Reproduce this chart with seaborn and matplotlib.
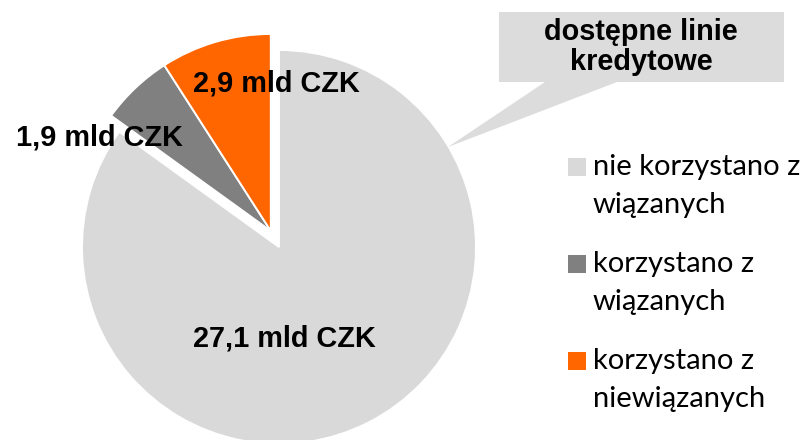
import math

import matplotlib
matplotlib.use('Agg')
import matplotlib.pyplot as plt
from matplotlib.patches import Polygon, Rectangle
import seaborn as sns

# data
values = [27.1, 1.9, 2.9]
legend_labels = [['nie korzystano z', 'wiązanych'],
                 ['korzystano z', 'wiązanych'],
                 ['korzystano z', 'niewiązanych']]
colors = ['#d9d9d9', '#808080', '#ff6600']
callout_text = 'dostępne linie\nkredytowe'

sns.set_theme(style='white')
plt.rcParams['font.family'] = ['Liberation Sans', 'DejaVu Sans']
plt.rcParams['text.color'] = 'black'
plt.rcParams['hatch.color'] = '#ececec'
plt.rcParams['hatch.linewidth'] = 0.6

W, H = 805, 440
fig = plt.figure(figsize=(W / 100, H / 100), dpi=100)
ax = fig.add_axes([0, 0, 1, 1])

cx, cy, R = 279, H - 247, 197
wedges, _ = ax.pie(values, colors=colors, startangle=90, counterclock=False,
                   center=(cx, cy), radius=R,
                   wedgeprops=dict(edgecolor='white', linewidth=1.4))

# the two small slices are pulled out together, like in Excel
t_lo = min(w.theta1 for w in wedges[1:])
t_hi = max(w.theta2 for w in wedges[1:])
mid = math.radians((t_lo + t_hi) / 2)
shift = 18
for w in wedges[1:]:
    w.set_center((cx + shift * math.cos(mid), cy + shift * math.sin(mid)))

ax.set_xlim(0, W)
ax.set_ylim(0, H)
ax.set_aspect('equal')
ax.axis('off')

# value labels
def fmt(v):
    return f'{v:.1f}'.replace('.', ',') + ' mld CZK'

label_pos = [(284, H - 338), (99, H - 137), (276, H - 83)]
for v, (x, y) in zip(values, label_pos):
    ax.text(x, y, fmt(v), ha='center', va='center', fontsize=20.8,
            fontweight='bold', color='black', zorder=5)

# callout
pts = [(499, 12), (784, 12), (784, 82), (617, 82), (448, 147), (545, 82), (499, 82)]
ax.add_patch(Polygon([(x, H - y) for x, y in pts], closed=True,
                     facecolor='#dcdcdc', edgecolor='none', hatch='++', zorder=1))
ax.text(641, H - 47, callout_text, ha='center', va='center', fontsize=20.8,
        fontweight='bold', linespacing=1.05, color='black', zorder=5)

# legend drawn by hand so the square sits at the first line
for i, (lines, col) in enumerate(zip(legend_labels, colors)):
    y0 = 167 + 97 * i
    ax.add_patch(Rectangle((568, H - y0 - 9), 18, 18, facecolor=col,
                           edgecolor='none'))
    for j, line in enumerate(lines):
        ax.text(593, H - (y0 + 38 * j), line, ha='left', va='center',
                fontsize=21, family=['Lato', 'DejaVu Sans'], color='black')

fig.savefig('out.png', dpi=100)
